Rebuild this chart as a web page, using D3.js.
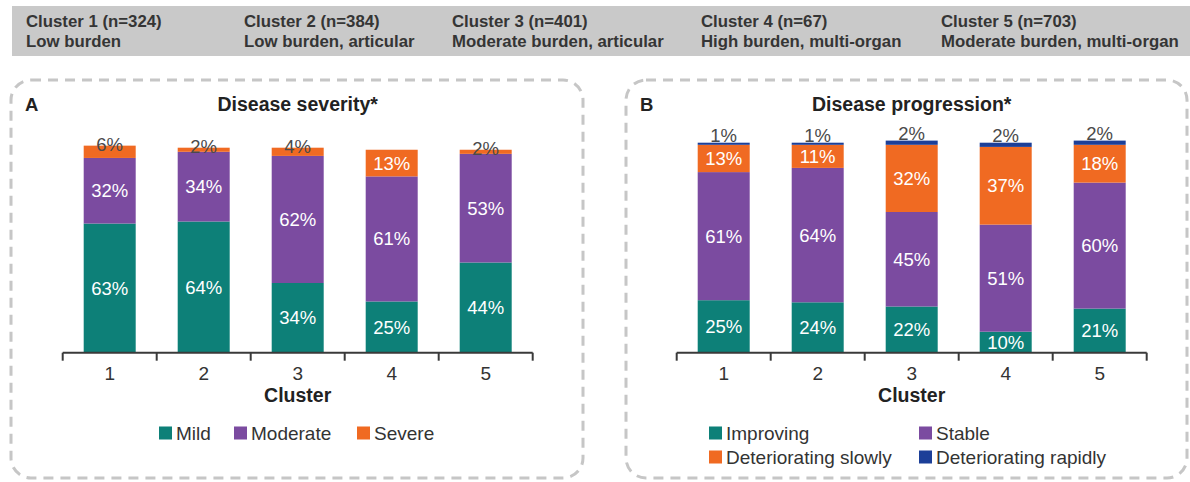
<!DOCTYPE html>
<html>
<head>
<meta charset="utf-8">
<script src="https://cdn.jsdelivr.net/npm/d3@7"></script>
<style>
  html, body { margin: 0; padding: 0; background: #fff; }
  svg { display: block; font-family: "Liberation Sans", Arial, sans-serif; }
</style>
</head>
<body>
<svg id="chart" width="1190" height="482"></svg>
<script>
// ---------- DATA ----------
const clusters = ["1", "2", "3", "4", "5"];
const headerTitles = ["Cluster 1 (n=324)", "Cluster 2 (n=384)", "Cluster 3 (n=401)", "Cluster 4 (n=67)", "Cluster 5 (n=703)"];
const headerSubtitles = ["Low burden", "Low burden, articular", "Moderate burden, articular", "High burden, multi-organ", "Moderate burden, multi-organ"];

const severityKeys = ["Mild", "Moderate", "Severe"];
const severityMild = [63, 64, 34, 25, 44];
const severityModerate = [32, 34, 62, 61, 53];
const severitySevere = [6, 2, 4, 13, 2];

const progressionKeys = ["Improving", "Stable", "Deteriorating slowly", "Deteriorating rapidly"];
const progImproving = [25, 24, 22, 10, 21];
const progStable = [61, 64, 45, 51, 60];
const progSlowly = [13, 11, 32, 37, 18];
const progRapidly = [1, 1, 2, 2, 2];

// ---------- STYLE ----------
const C = { teal: "#0d8078", purple: "#7b4ba0", orange: "#f06a22", blue: "#1c3f98" };
const svg = d3.select("#chart");

// ---------- HEADER ----------
const headerX = [26, 244, 452, 701, 941];
svg.append("rect").attr("x", 12).attr("y", 6).attr("width", 1178).attr("height", 50).attr("fill", "#c9c9c9");
const hg = svg.append("g");
headerTitles.forEach((t, i) => {
  hg.append("text").attr("x", headerX[i]).attr("y", 27).text(t)
    .attr("font-size", 16.8).attr("font-weight", "bold").attr("fill", "#353535");
  hg.append("text").attr("x", headerX[i]).attr("y", 47).text(headerSubtitles[i])
    .attr("font-size", 16.8).attr("font-weight", "bold").attr("fill", "#353535");
});

// ---------- PANEL ----------
function panel(opts) {
  const g = svg.append("g");
  g.append("rect").attr("x", opts.box[0]).attr("y", opts.box[1])
    .attr("width", opts.box[2]).attr("height", opts.box[3])
    .attr("rx", 20).attr("ry", 20)
    .attr("fill", "none").attr("stroke", "#c6c6c6").attr("stroke-width", 3)
    .attr("stroke-dasharray", "10 7");
  g.append("text").attr("x", opts.box[0] + 14).attr("y", 111).text(opts.letter)
    .attr("font-size", 18.5).attr("font-weight", "bold").attr("fill", "#222");

  const x = d3.scaleBand().domain(clusters).range(opts.xRange).paddingInner(0).paddingOuter(0);
  const y = d3.scaleLinear().domain([0, 100]).range([352.7, opts.yTop]);
  const cx = (opts.xRange[0] + opts.xRange[1]) / 2;

  g.append("text").attr("x", cx).attr("y", 111).attr("text-anchor", "middle").text(opts.title)
    .attr("font-size", 19.5).attr("font-weight", "bold").attr("fill", "#222");

  const rows = clusters.map((c, i) => {
    const r = { cluster: c };
    opts.keys.forEach((k, j) => r[k] = opts.series[j][i]);
    return r;
  });
  const stack = d3.stack().keys(opts.keys)(rows);
  const color = d3.scaleOrdinal().domain(opts.keys).range(opts.colors);
  const barW = 52;

  stack.forEach(layer => {
    const isTop = layer.index === opts.keys.length - 1;
    const small = d => isTop && (d[1] - d[0]) < 10;
    g.append("g").selectAll("rect").data(layer).join("rect")
      .attr("x", d => x(d.data.cluster) + x.bandwidth() / 2 - barW / 2)
      .attr("width", barW)
      .attr("y", d => y(d[1]))
      .attr("height", d => y(d[0]) - y(d[1]))
      .attr("fill", color(layer.key));
    g.append("g").selectAll("text").data(layer).join("text")
      .attr("x", d => x(d.data.cluster) + x.bandwidth() / 2)
      .attr("y", d => small(d) ? y(d[1]) + opts.smallOffset : (y(d[0]) + y(d[1])) / 2 + 6.5)
      .attr("text-anchor", "middle")
      .attr("font-size", 18.5)
      .attr("fill", d => small(d) ? "#4a4a4a" : "#fff")
      .text(d => (d[1] - d[0]) + "%");
  });

  const ax = g.append("g").attr("transform", "translate(0,352.7)")
    .call(d3.axisBottom(x).tickSize(0).tickPadding(14));
  ax.select(".domain").attr("stroke", "#3a3a3a").attr("stroke-width", 2)
    .attr("d", `M${opts.xRange[0]},0H${opts.xRange[1]}`);
  ax.selectAll(".tick text").attr("font-size", 19).attr("fill", "#333")
    .attr("font-family", "Liberation Sans, Arial, sans-serif");
  const bounds = clusters.map(c => x(c)).concat([opts.xRange[1]]);
  ax.selectAll("line.bnd").data(bounds).join("line").attr("class", "bnd")
    .attr("x1", d => d).attr("x2", d => d).attr("y1", 0).attr("y2", 8)
    .attr("stroke", "#3a3a3a").attr("stroke-width", 2);

  g.append("text").attr("x", cx).attr("y", 402).attr("text-anchor", "middle").text("Cluster")
    .attr("font-size", 19.5).attr("font-weight", "bold").attr("fill", "#222");

  opts.keys.forEach((k, j) => {
    const [lx, ly] = opts.legendPos[j];
    g.append("rect").attr("x", lx).attr("y", ly - 6.5).attr("width", 13).attr("height", 13).attr("fill", color(k));
    g.append("text").attr("x", lx + 17).attr("y", ly + 6.5).text(k)
      .attr("font-size", 19).attr("fill", "#333");
  });
}

panel({
  letter: "A", title: "Disease severity*",
  box: [11, 80, 572, 398],
  xRange: [62.7, 532.7], yTop: 147.7, smallOffset: 5,
  keys: severityKeys, series: [severityMild, severityModerate, severitySevere],
  colors: [C.teal, C.purple, C.orange],
  legendPos: [[159, 433], [234, 433], [357, 433]]
});

panel({
  letter: "B", title: "Disease progression*",
  box: [626, 80, 561, 398],
  xRange: [676.7, 1146.7], yTop: 142.7, smallOffset: -1,
  keys: progressionKeys, series: [progImproving, progStable, progSlowly, progRapidly],
  colors: [C.teal, C.purple, C.orange, C.blue],
  legendPos: [[709, 433], [919, 433], [709, 457], [919, 457]]
});
</script>
</body>
</html>
